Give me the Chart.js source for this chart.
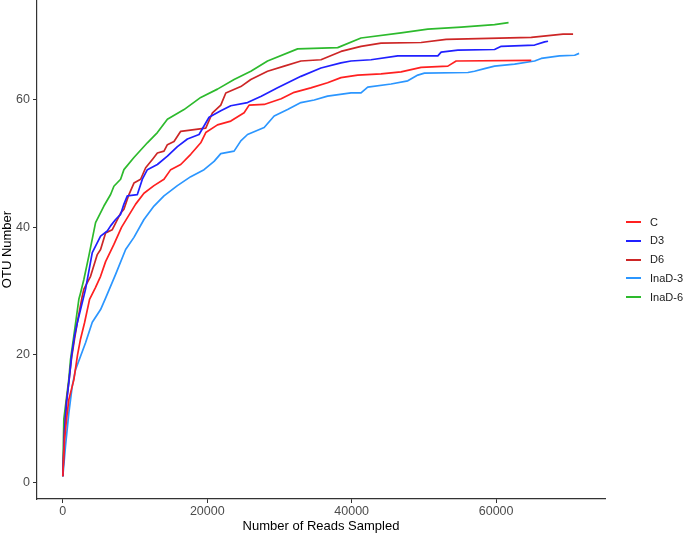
<!DOCTYPE html>
<html>
<head>
<meta charset="utf-8">
<script src="https://cdn.jsdelivr.net/npm/chart.js@4.4.0/dist/chart.umd.min.js"></script>
<style>
  html, body { margin: 0; padding: 0; background: #ffffff; }
  #wrap { position: relative; width: 685px; height: 534px; }
  #legend { position: absolute; left: 0; top: 0; font-family: "Liberation Sans", Arial, sans-serif; }
  .lg-line { position: absolute; width: 15px; height: 2px; }
  .lg-text { position: absolute; font-size: 11px; color: #1a1a1a; line-height: 12px; white-space: nowrap; }
</style>
</head>
<body>
<div id="wrap">
  <canvas id="c" width="685" height="534"></canvas>
  <div id="legend"></div>
</div>
<script>
// ---------------- DATA ----------------
const seriesNames = ["C", "D3", "D6", "InaD-3", "InaD-6"];
const xTickValues = [0, 20000, 40000, 60000];
const yTickValues = [0, 20, 40, 60];

const readsC = [0,236,513,832,1526,2039,2455,3000,3703,4500,5229,5922,7074,8142,9113,10084,11235,12622,14009,14938,16325,17712,19099,19792,21415,23260,25105,25798,27878,30236,32040,34339,36655,38517,40833,44065,46838,49613,53316,54466,64870];
const otuC   = [1,6.7,9.9,13.0,16.1,20.0,22.5,25.0,28.7,30.5,32.3,34.6,37.3,40.0,41.8,43.6,45.3,46.5,47.5,49.0,49.8,51.4,53.2,54.8,56.0,56.6,57.9,59.1,59.2,60.1,61.1,61.8,62.6,63.4,63.8,64.0,64.3,65.0,65.2,66.0,66.1];

const readsD3 = [0,236,513,860,1207,1623,1997,2913,3148,4078,5229,6158,6616,7309,8003,8461,8932,10319,11013,11706,13093,14480,15867,17254,18863,20250,21873,23260,25576,27479,29737,32969,35743,38517,39904,42678,46381,51929,52386,54703,59780,60709,65328,66715,67187];
const otuD3   = [1,8.0,12.5,16.0,19.8,23.0,25.0,29.2,30.3,36.0,38.6,39.4,40.2,41.2,42.0,43.6,44.9,45.1,47.5,49.0,49.8,51.1,52.6,53.8,54.5,57.2,58.2,59.0,59.5,60.5,61.8,63.6,64.9,65.7,66.0,66.2,66.8,66.8,67.4,67.7,67.8,68.3,68.5,69.0,69.1];

const readsD6 = [0,236,513,860,1207,1623,1997,2691,2913,3842,4771,5229,5922,6852,8003,8461,9154,9848,10777,11470,12400,13093,14009,14480,15396,16325,19792,20722,21873,22567,24647,26034,28350,30652,32969,35743,38517,41291,44065,49613,53080,64870,69266,70653];
const otuD6   = [1,8.3,12.8,16.0,19.5,22.5,25.0,29.2,30.3,32.3,35.7,36.5,39.1,39.6,42.2,42.8,45.1,46.9,47.5,49.3,50.6,51.6,51.9,52.9,53.4,55.0,55.5,57.9,59.1,61.0,62.0,63.1,64.4,65.2,66.0,66.2,67.5,68.3,68.8,68.9,69.4,69.7,70.2,70.2];

const readsInaD3 = [0,374,832,1304,1761,2455,3148,4078,5229,5922,7309,8697,9848,11235,12622,14009,15867,17712,19557,20944,21873,23718,24647,25576,27879,29265,31124,32969,34814,36655,39904,41291,42220,45452,47768,49155,50070,56090,57005,58392,59780,62553,65328,66245,68769,70874,71487];
const otuInaD3   = [1,5.8,10.9,15.1,17.7,19.8,21.9,25.1,27.1,28.9,32.6,36.5,38.4,41.2,43.3,44.9,46.5,47.9,49.0,50.3,51.5,51.9,53.5,54.5,55.6,57.4,58.4,59.5,59.9,60.5,61.0,61.0,61.9,62.4,62.9,63.8,64.1,64.2,64.4,64.8,65.2,65.5,66.0,66.4,66.8,66.9,67.2];

const readsInaD6 = [0,139,832,1068,1526,2219,2455,2913,3606,4535,5687,6616,7074,8003,8461,9848,11706,13093,14480,16783,19099,21415,23718,26034,28350,32511,38059,41291,46838,50541,55162,59780,61720];
const otuInaD6   = [1,9.9,16.2,19.3,23.0,28.7,29.7,31.8,35.5,40.7,43.3,45.1,46.4,47.5,49.0,50.9,53.2,54.8,56.9,58.4,60.3,61.6,63.1,64.4,66.0,67.9,68.1,69.6,70.4,71.0,71.3,71.7,72.0];

const seriesColors = ["#FF2020", "#2020FF", "#CD2626", "#2B96FF", "#2DBA2D"];
// --------------------------------------

const readsAll = [readsC, readsD3, readsD6, readsInaD3, readsInaD6];
const otuAll = [otuC, otuD3, otuD6, otuInaD3, otuInaD6];

function pairs(xs, ys) { return xs.map((x, i) => ({ x: x, y: ys[i] })); }

const datasets = seriesNames.map((n, i) => ({
  label: n,
  data: pairs(readsAll[i], otuAll[i]),
  borderColor: seriesColors[i],
  backgroundColor: seriesColors[i],
  borderWidth: 1.7,
  pointRadius: 0,
  tension: 0,
  fill: false,
  borderJoinStyle: 'round'
}));

const FONT = "'Liberation Sans', Arial, sans-serif";

new Chart(document.getElementById('c'), {
  type: 'line',
  data: { datasets: datasets },
  options: {
    responsive: false,
    animation: false,
    devicePixelRatio: 1,
    layout: { padding: { left: 0, right: 80, top: 0, bottom: 0 } },
    plugins: { legend: { display: false }, tooltip: { enabled: false } },
    scales: {
      x: {
        type: 'linear',
        min: -3575, max: 75075,
        afterBuildTicks: s => { s.ticks = xTickValues.map(v => ({ value: v })); },
        afterFit: s => { s.height = 35; s.paddingLeft = 0; s.paddingRight = 0; },
        grid: { display: true, drawOnChartArea: false, drawTicks: true, tickLength: 4, tickColor: '#333333', tickWidth: 1 },
        border: { display: true, color: '#333333', width: 1.2 },
        ticks: { color: '#4D4D4D', font: { family: FONT, size: 12.5 }, padding: 1, maxRotation: 0, autoSkip: false, callback: v => String(v) },
        title: { display: true, text: 'Number of Reads Sampled', color: '#000000', font: { family: FONT, size: 13 }, padding: { top: 0, bottom: 0 } }
      },
      y: {
        type: 'linear',
        min: -2.55, max: 75.55,
        afterBuildTicks: s => { s.ticks = yTickValues.map(v => ({ value: v })); },
        afterFit: s => { s.width = 37; s.paddingTop = 0; s.paddingBottom = 0; },
        grid: { display: true, drawOnChartArea: false, drawTicks: true, tickLength: 4, tickColor: '#333333', tickWidth: 1 },
        border: { display: true, color: '#333333', width: 1.2 },
        ticks: { color: '#4D4D4D', font: { family: FONT, size: 12.5 }, padding: 3, autoSkip: false, callback: v => String(v) },
        title: { display: true, text: 'OTU Number', color: '#000000', font: { family: FONT, size: 13, lineHeight: 1.0 }, padding: { top: 1, bottom: 0 } }
      }
    }
  }
});

// legend (HTML, real text)
const lg = document.getElementById('legend');
seriesNames.forEach((n, i) => {
  const cy = 222 + i * 18.75;
  const ln = document.createElement('div');
  ln.className = 'lg-line';
  ln.style.left = '626px';
  ln.style.top = (cy - 1) + 'px';
  ln.style.background = seriesColors[i];
  lg.appendChild(ln);
  const tx = document.createElement('div');
  tx.className = 'lg-text';
  tx.style.left = '650px';
  tx.style.top = (cy - 6.5) + 'px';
  tx.textContent = n;
  lg.appendChild(tx);
});
</script>
</body>
</html>
